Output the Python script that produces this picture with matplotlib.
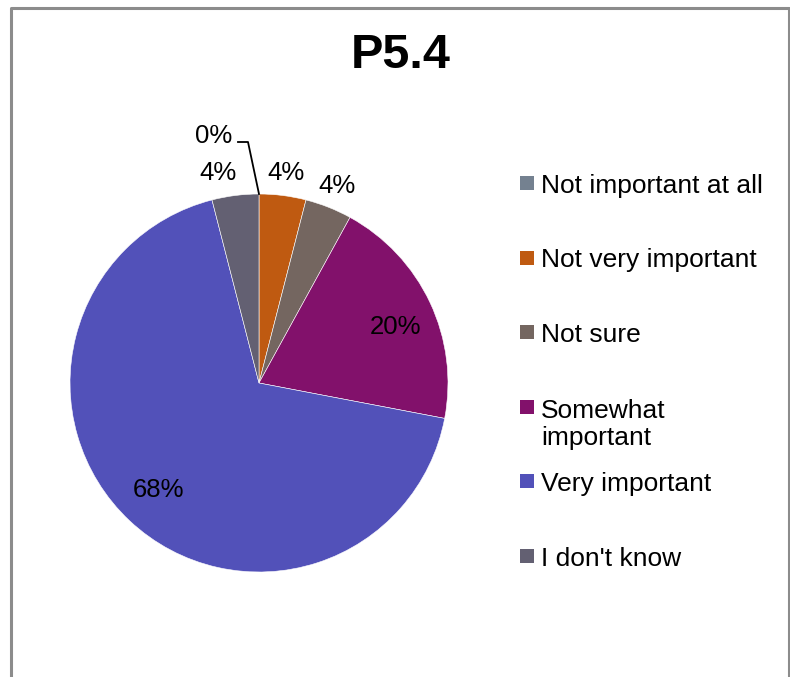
import numpy as np
import matplotlib
matplotlib.use("Agg")
import matplotlib.pyplot as plt
from matplotlib.patches import Rectangle
from matplotlib.lines import Line2D

plt.rcParams['font.family'] = ['Liberation Sans', 'DejaVu Sans']

title = "P5.4"
categories = ["Not important at all", "Not very important", "Not sure",
              "Somewhat\nimportant", "Very important", "I don't know"]
values = [0, 4, 4, 20, 68, 4]
colors = ["#748190", "#BF5A11", "#746660", "#82116B", "#5251B9", "#636072"]

W, H = 790, 677
fig = plt.figure(figsize=(W / 100, H / 100), dpi=100)
ax = fig.add_axes([0, 0, 1, 1])
ax.set_xlim(0, W)
ax.set_ylim(0, H)
ax.set_aspect('equal')
ax.axis('off')

cx, cy, R = 259, H - 383, 189
wedges, _ = ax.pie(values, colors=colors, startangle=90, counterclock=False,
                   center=(cx, cy), radius=R, frame=True,
                   wedgeprops=dict(edgecolor='white', linewidth=0.4))
ax.set_xlim(0, W)
ax.set_ylim(0, H)
ax.axis('off')

fs = 18.5
# percentage labels: small slices outside, large ones inside
for i, (w, v) in enumerate(zip(wedges, values)):
    mid = np.deg2rad((w.theta1 + w.theta2) / 2)
    txt = f"{v}%"
    if v == 0:
        # leader line from the slice edge to a label up and to the left
        ex, ey = cx + R * np.cos(mid), cy + R * np.sin(mid)
        kx, ky = ex - 11, ey + 52
        ax.add_line(Line2D([ex, kx, kx - 10], [ey, ky, ky], color='black', lw=1.3))
        ax.text(kx - 16, ky - 6, txt, ha='right', va='bottom', fontsize=fs)
        continue
    r = 1.12 if v < 10 else 0.78
    dx, dy = 0, 0
    if categories[i] == "I don't know":
        dx = -14
    if v == 20:
        mid -= np.deg2rad(3)
    ax.text(cx + r * R * np.cos(mid) + dx, cy + r * R * np.sin(mid) + dy, txt,
            ha='center', va='center', fontsize=fs)

# title
fig.text(401 / W, 1 - 56 / H, title, ha='center', va='center',
         fontsize=35, fontweight='bold')

# legend: marker sits beside the first line of each entry
y0, step, line_h = 183, 74.6, 29
for i, (lab, col) in enumerate(zip(categories, colors)):
    yc = y0 + i * step
    fig.patches.append(Rectangle((520 / W, 1 - (yc + 7) / H), 14 / W, 14 / H,
                                 transform=fig.transFigure, facecolor=col,
                                 edgecolor='none'))
    extra = (lab.count("\n")) * line_h
    fig.text(541 / W, 1 - (yc + 9.5 + extra) / H, lab, ha='left', va='baseline',
             fontsize=19, linespacing=1.2)

# chart frame (open at the bottom)
fx = [10.5 / W, 10.5 / W, 789 / W, 789 / W]
fy = [0, 1 - 8 / H, 1 - 8 / H, 0]
fig.lines.append(Line2D(fx, fy, transform=fig.transFigure, color='#8c8c8c', lw=2.2))

fig.savefig("out.png", dpi=100, facecolor='white')
